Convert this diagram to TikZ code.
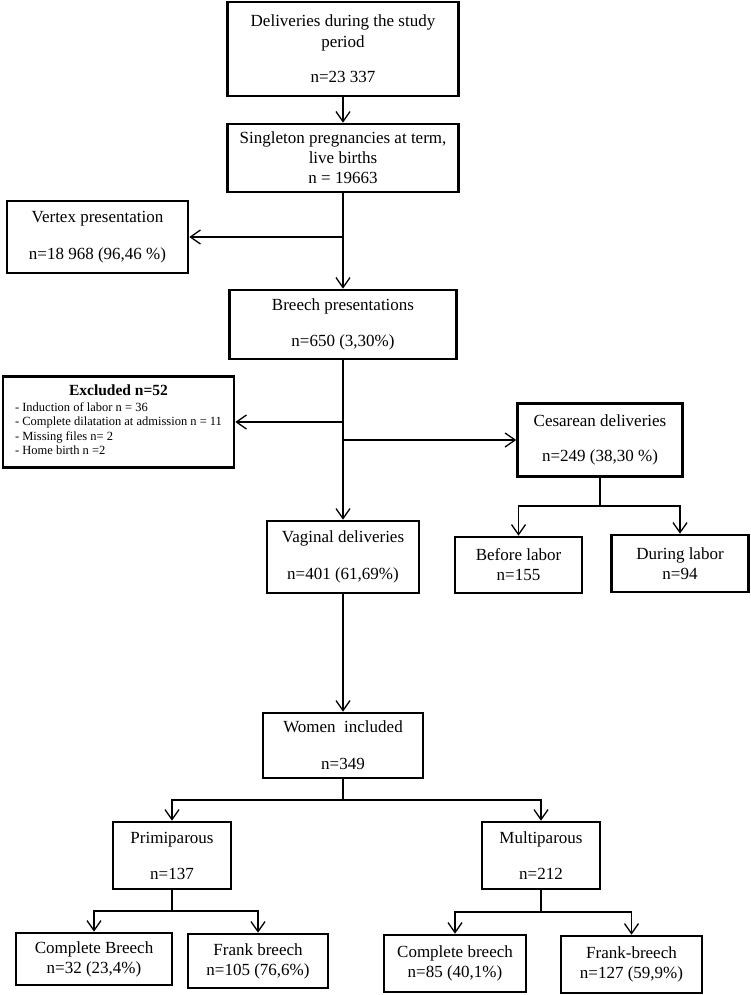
\documentclass[tikz,border=0pt]{standalone}
\usepackage{fontspec}
\setmainfont{Liberation Serif}
\usetikzlibrary{arrows.meta}

\begin{document}
\begin{tikzpicture}[x=1pt, y=-1pt, line width=1.3pt,
    box/.style={draw, line width=2.6pt, inner sep=0pt, align=center, font=\fontsize{17}{20}\selectfont},
    arr/.style={-{Straight Barb[length=10pt,width=14pt]}}]
  \useasboundingbox (0,0) rectangle (750,995);

  % main column
  \node[box, minimum width=231pt, minimum height=94pt] (deliv) at (343,49) {Deliveries during the study\\[1pt] period\\[15pt] n=23 337};
  \node[box, minimum width=231pt, minimum height=68pt] (single) at (343,158) {Singleton pregnancies at term,\\ live births\\ n = 19663};
  \node[box, minimum width=181pt, minimum height=72pt] (vertex) at (97.5,237) {Vertex presentation\\[17pt] n=18 968 (96,46 \%)};
  \node[box, minimum width=227pt, minimum height=69pt] (breech) at (343,324.5) {Breech presentations\\[16pt] n=650 (3,30\%)};
  \node[box, minimum width=231pt, minimum height=91pt, font=\fontsize{12.5}{14.5}\selectfont] (excl) at (118.5,422)
    {\begin{tabular}{@{}l@{}}
      \multicolumn{1}{@{}c@{}}{\fontsize{15.5}{18}\selectfont\bfseries Excluded n=52}\\[1pt]
      - Induction of labor n = 36\\
      - Complete dilatation at admission n = 11\\
      - Missing files n= 2\\
      - Home birth n =2
    \end{tabular}};
  \node[box, minimum width=165pt, minimum height=73pt] (ces) at (600,440) {Cesarean deliveries\\[15pt] n=249 (38,30 \%)};
  \node[box, minimum width=127pt, minimum height=56pt] (before) at (518.5,565) {Before labor\\ n=155};
  \node[box, minimum width=137pt, minimum height=57pt] (during) at (680,563.5) {During labor\\ n=94};
  \node[box, minimum width=152pt, minimum height=72pt] (vag) at (343,557) {Vaginal deliveries\\[17pt] n=401 (61,69\%)};
  \node[box, minimum width=160pt, minimum height=65pt] (women) at (343,745.5) {Women\ \ included\\[17pt] n=349};

  % parity
  \node[box, minimum width=118pt, minimum height=67pt] (prim) at (172,855.5) {Primiparous\\[16pt] n=137};
  \node[box, minimum width=118pt, minimum height=67pt] (multi) at (541,855.5) {Multiparous\\[16pt] n=212};
  \node[box, minimum width=156pt, minimum height=52pt] (cb1) at (94,959) {Complete Breech\\ n=32 (23,4\%)};
  \node[box, minimum width=140pt, minimum height=54pt] (fb1) at (258,961) {Frank breech\\ n=105 (76,6\%)};
  \node[box, minimum width=142pt, minimum height=57pt] (cb2) at (455,963.5) {Complete breech\\ n=85 (40,1\%)};
  \node[box, minimum width=141pt, minimum height=57pt] (fb2) at (631.5,964.5) {Frank-breech\\ n=127 (59,9\%)};

  % split points
  \coordinate (vsplit) at (343,237);
  \coordinate (xsplit) at (343,422);
  \coordinate (csplit) at (343,440);
  \coordinate (cbar) at (600,506);
  \coordinate (wbar) at (343,800);
  \coordinate (pbar) at (172,911);
  \coordinate (mbar) at (541,912);

  % connectors
  \draw[arr] (deliv) -- (single);
  \draw[arr] (single) -- (breech);
  \draw[arr] (vsplit) -- (vertex);
  \draw[arr] (breech) -- (vag);
  \draw[arr] (xsplit) -- (excl);
  \draw[arr] (csplit) -- (ces);
  \draw (ces) -- (cbar);
  \draw[arr] (cbar) -| (before);
  \draw[arr] (cbar) -| (during);
  \draw[arr] (vag) -- (women);
  \draw (women) -- (wbar);
  \draw[arr] (wbar) -| (prim);
  \draw[arr] (wbar) -| (multi);
  \draw (prim) -- (pbar);
  \draw[arr] (pbar) -| (cb1);
  \draw[arr] (pbar) -| (fb1);
  \draw (multi) -- (mbar);
  \draw[arr] (mbar) -| (cb2);
  \draw[arr] (mbar) -| (fb2);
\end{tikzpicture}
\end{document}
